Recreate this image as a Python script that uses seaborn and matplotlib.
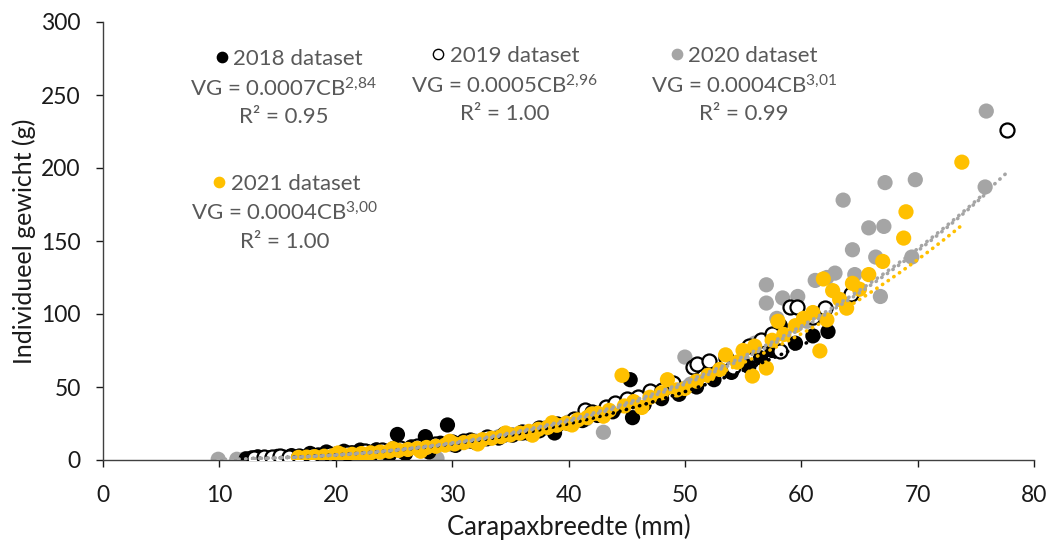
import numpy as np
import pandas as pd
import matplotlib
matplotlib.use("Agg")
import matplotlib.pyplot as plt
import seaborn as sns

# 2018 dataset (black)
cb_2018 = [12.3, 12.8, 13.3, 13.9, 14.4, 15.0, 15.6, 16.2, 17.0, 17.8, 18.5, 19.2, 20.0, 20.7,
           21.4, 22.1, 22.8, 23.5, 24.2, 25.0, 25.3, 25.8, 26.5, 27.2, 27.7, 28.3, 29.0, 29.6,
           30.3, 31.0, 32.0, 33.0, 34.0, 35.2, 36.5, 37.5, 38.8, 40.0, 41.2, 42.5, 43.8, 45.3,
           45.5, 46.5, 48.0, 49.5, 51.0, 52.5, 54.0, 55.5, 56.5, 57.5, 58.2, 59.5, 61.0, 62.3,
           19.8, 21.0, 23.0, 24.6, 26.0, 28.0]
vg_2018 = [0.8, 1.5, 2.2, 1.2, 1.6, 2.5, 1.9, 3.0, 2.2, 4.5, 3.5, 5.5, 4.0, 6.0,
           5.0, 6.8, 5.5, 7.0, 6.0, 8.0, 17.5, 5.5, 9.0, 8.0, 16.0, 10.5, 11.5, 24.0,
           10.0, 13.0, 12.0, 14.5, 15.0, 17.0, 18.5, 20.0, 18.5, 25.0, 27.0, 30.5, 33.0, 55.0,
           29.0, 38.0, 42.0, 45.0, 50.0, 55.0, 60.0, 64.0, 70.0, 75.0, 92.0, 80.0, 85.0, 88.0,
           1.5, 2.5, 3.0, 3.5, 4.5, 5.5]

# 2019 dataset (open circles)
cb_2019 = [13.0, 13.8, 14.5, 15.2, 16.0, 16.8, 18.0, 19.5, 21.0, 22.5, 24.0, 25.5, 27.0, 28.5,
           30.0, 31.5, 33.0, 34.5, 36.0, 37.5, 39.0, 40.5, 41.4, 42.0, 43.2, 44.0, 45.0, 46.0,
           47.0, 48.0, 49.0, 50.7, 51.0, 52.1, 53.5, 54.1, 55.5, 56.5, 57.5, 58.2, 59.0, 59.6,
           61.0, 62.0, 64.3, 77.7]
vg_2019 = [1.5, 2.0, 1.8, 2.5, 2.3, 2.8, 3.2, 4.0, 5.0, 6.0, 7.0, 8.0, 9.5, 11.0,
           12.5, 14.0, 16.0, 17.5, 19.5, 22.0, 25.0, 28.0, 34.0, 33.0, 36.0, 39.0, 42.0, 43.0,
           47.0, 48.0, 53.0, 64.0, 66.0, 68.0, 70.0, 64.0, 78.0, 82.0, 86.0, 75.0, 105.0, 105.0,
           98.0, 104.0, 114.0, 226.0]

# 2020 dataset (grey)
cb_2020 = [9.9, 11.5, 12.2, 14.0, 16.0, 18.0, 20.0, 22.0, 24.0, 26.0, 28.0, 28.7, 30.0, 32.0,
           34.0, 36.0, 38.0, 40.0, 41.5, 43.0, 44.0, 46.0, 48.0, 50.0, 50.5, 52.0, 54.0, 55.0,
           56.0, 57.0, 57.0, 58.4, 59.7, 57.9, 60.5, 61.2, 62.2, 62.9, 63.6, 64.4, 64.6, 65.8,
           66.4, 66.8, 67.1, 67.2, 69.5, 69.8, 75.8, 75.9]
vg_2020 = [0.5, 0.5, 0.8, 1.2, 1.5, 2.2, 3.0, 4.3, 5.3, 7.0, 8.5, 1.0, 10.5, 13.0,
           16.0, 19.0, 22.0, 26.0, 28.0, 19.0, 35.0, 40.0, 46.0, 70.5, 52.0, 58.0, 62.0, 68.0,
           80.0, 120.0, 107.5, 111.0, 112.0, 97.0, 95.0, 123.0, 125.0, 128.0, 178.0, 144.0, 127.0, 159.0,
           139.0, 112.0, 160.0, 190.0, 139.0, 192.0, 187.0, 239.0]

# 2021 dataset (orange)
cb_2021 = [16.8, 17.5, 18.2, 19.0, 19.8, 20.6, 21.4, 22.2, 23.0, 23.8, 24.6, 25.4, 26.2, 27.0,
           27.8, 28.6, 29.4, 30.2, 31.0, 31.8, 32.6, 33.4, 34.2, 35.0, 35.8, 36.6, 37.4, 38.2,
           39.0, 39.8, 40.8, 41.6, 42.5, 43.5, 44.6, 44.8, 45.6, 46.3, 47.0, 48.0, 48.5, 49.3,
           50.0, 51.0, 52.0, 53.0, 53.5, 54.5, 55.0, 55.8, 56.0, 57.0, 57.5, 58.0, 58.5, 59.5,
           60.2, 61.0, 61.6, 61.9, 62.2, 62.7, 63.3, 63.9, 64.4, 65.0, 65.8, 67.0, 68.8, 69.0, 73.8,
           18.6, 20.2, 22.6, 24.9, 27.3, 29.8, 32.2, 34.6, 36.9, 38.6, 40.3, 42.0, 43.0]
vg_2021 = [1.8, 2.0, 2.3, 2.6, 3.0, 3.5, 3.9, 4.4, 4.9, 5.4, 6.0, 6.6, 7.2, 7.9,
           8.6, 9.4, 10.2, 11.0, 11.9, 12.9, 13.9, 14.9, 16.0, 17.2, 18.4, 19.6, 21.0, 22.3,
           23.8, 25.2, 27.5, 29.0, 32.0, 34.0, 58.0, 37.0, 40.0, 36.0, 43.0, 46.0, 55.0, 48.0,
           49.0, 54.0, 58.0, 62.0, 72.0, 67.0, 75.0, 57.5, 78.0, 63.0, 82.0, 95.0, 86.0, 92.0,
           97.0, 101.0, 74.7, 124.0, 96.0, 116.0, 110.0, 104.0, 121.0, 117.0, 127.0, 136.0, 152.0, 170.0, 204.0,
           1.0, 4.8, 2.8, 7.8, 6.0, 12.8, 11.0, 18.5, 17.0, 25.5, 24.0, 31.5, 30.0]

# power trendlines VG = a * CB^b as printed in the chart
years = ["2018", "2019", "2020", "2021"]
coef_a = [0.0007, 0.0005, 0.0004, 0.0004]
coef_b = [2.84, 2.96, 3.01, 3.00]
coef_b_label = ["2,84", "2,96", "3,01", "3,00"]
r2_label = ["0.95", "1.00", "0.99", "1.00"]

BLACK = "#000000"
GREY = "#A5A5A5"
ORANGE = "#FFC000"
TXT = "#595959"

sns.set_theme(style="white")
plt.rcParams["font.family"] = ["Lato", "DejaVu Sans"]
plt.rcParams["mathtext.fontset"] = "custom"
plt.rcParams["mathtext.rm"] = "Lato"
plt.rcParams["mathtext.it"] = "Lato"

fig = plt.figure(figsize=(10.48, 5.42), dpi=100)
ax = fig.add_axes([103 / 1048, 1 - 460 / 542, 931 / 1048, 438 / 542])

ms = 120
sns.scatterplot(x=cb_2020, y=vg_2020, ax=ax, s=ms, color=GREY, edgecolor="none", zorder=2)
sns.scatterplot(x=cb_2018, y=vg_2018, ax=ax, s=ms, color=BLACK, edgecolor="none", zorder=3)
sns.scatterplot(x=cb_2019, y=vg_2019, ax=ax, s=ms * 0.85, facecolor="white", edgecolor=BLACK,
                linewidth=1.6, zorder=4)
sns.scatterplot(x=cb_2021, y=vg_2021, ax=ax, s=ms, color=ORANGE, edgecolor="none", zorder=5)

# trendlines, drawn over the range of each dataset
ranges = [(min(cb_2018), max(cb_2018)), (min(cb_2019), max(cb_2019)),
          (min(cb_2020), max(cb_2020)), (min(cb_2021), max(cb_2021))]
line_cols = [BLACK, GREY, GREY, ORANGE]
line_z = [6, 8, 8, 7]
for (lo, hi), a, b, c, z in zip(ranges, coef_a, coef_b, line_cols, line_z):
    xs = np.linspace(lo, hi, 200)
    trend = pd.DataFrame({"cb": xs, "vg": a * xs ** b})
    sns.lineplot(data=trend, x="cb", y="vg", ax=ax, color=c, linewidth=2.6,
                 linestyle=(0, (0.1, 1.8)), dash_capstyle="round", zorder=z)

ax.set_xlim(0, 80)
ax.set_ylim(0, 300)
ax.set_xticks(range(0, 81, 10))
ax.set_yticks(range(0, 301, 50))
ax.set_xlabel("Carapaxbreedte (mm)", fontsize=18.5, color="#1a1a1a", labelpad=6)
ax.set_ylabel("Individueel gewicht (g)", fontsize=18, color="#1a1a1a", labelpad=4)
ax.tick_params(axis="both", labelsize=16.5, colors="#1a1a1a", length=5, width=1,
               direction="out", bottom=True, left=True)
ax.tick_params(axis="x", pad=13)
ax.tick_params(axis="y", pad=11)
for lab in ax.get_xticklabels() + ax.get_yticklabels():
    lab.set_color("#1a1a1a")
sns.despine(ax=ax)
for s in ["left", "bottom"]:
    ax.spines[s].set_color("#404040")
    ax.spines[s].set_linewidth(1.0)

# in-chart legend blocks: (marker x, header y, center x of the equation lines)
blocks = [(10.2, 274.5, 15.5), (28.8, 276.5, 34.5), (49.3, 276.5, 55.1), (10.0, 189, 15.6)]
mk_face = [BLACK, "white", GREY, ORANGE]
for (mx, hy, cx), yr, a, bl, r2, fc in zip(blocks, years, coef_a, coef_b_label, r2_label, mk_face):
    ax.scatter([mx], [hy + 1.5], s=55, facecolor=fc, edgecolor=BLACK if fc == "white" else fc,
               linewidth=1.0, zorder=10, clip_on=False)
    ax.text(mx + 1.0, hy, f"{yr} dataset", fontsize=16, color=TXT, ha="left", va="center")
    ax.text(cx, hy - 20, f"VG = {a}CB$^{{{bl.replace(',', '{,}')}}}$", fontsize=16,
            color=TXT, ha="center", va="center")
    ax.text(cx, hy - 39.5, f"R² = {r2}", fontsize=16, color=TXT, ha="center", va="center")

fig.savefig("out.png", dpi=100)
